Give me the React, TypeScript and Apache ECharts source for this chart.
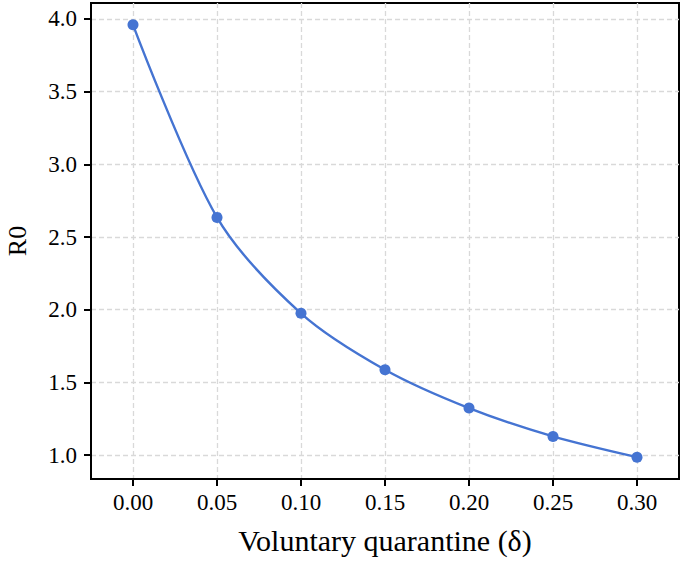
import React, { useEffect, useRef } from "react";
import * as echarts from "echarts";

const deltaValues = [0.0, 0.05, 0.1, 0.15, 0.2, 0.25, 0.3];
const r0Values = [3.96, 2.635, 1.975, 1.587, 1.323, 1.128, 0.985];
const xTickValues = [0.0, 0.05, 0.1, 0.15, 0.2, 0.25, 0.3];
const yTickValues = [1.0, 1.5, 2.0, 2.5, 3.0, 3.5, 4.0];

const FONT = "'Liberation Serif', 'Times New Roman', serif";
const W = 685;
const H = 563;

export default function App() {
  const ref = useRef<HTMLDivElement>(null);
  useEffect(() => {
    if (!ref.current) return;
    const chart = echarts.init(ref.current, undefined, { renderer: "svg" });
    const split = {
      show: true,
      lineStyle: { color: "#d9d9d9", width: 1.3, type: [5, 3] as any },
    };
    chart.setOption({
      animation: false,
      backgroundColor: "#ffffff",
      grid: {
        left: 91,
        right: 6,
        top: 3,
        bottom: 84,
        outerBoundsMode: "none",
        containLabel: false,
        show: true,
        borderColor: "#000",
        borderWidth: 2,
        backgroundColor: "transparent",
      },
      xAxis: {
        type: "value",
        min: -0.025,
        max: 0.325,
        name: "Voluntary quarantine (δ)",
        nameLocation: "middle",
        nameGap: 46,
        nameTextStyle: { fontFamily: FONT, fontSize: 30, color: "#000" },
        axisLine: { show: true, onZero: false, lineStyle: { color: "#000", width: 2 } },
        axisTick: {
          show: true,
          length: 7,
          customValues: xTickValues,
          lineStyle: { color: "#000", width: 2 },
        },
        axisLabel: {
          customValues: xTickValues,
          formatter: (v: number) => v.toFixed(2),
          fontFamily: FONT,
          fontSize: 23,
          color: "#000",
          margin: 12,
        },
        splitLine: split,
      },
      yAxis: {
        type: "value",
        min: 0.835,
        max: 4.11,
        name: "R0",
        nameLocation: "middle",
        nameGap: 61,
        nameTextStyle: { fontFamily: FONT, fontSize: 26, color: "#000" },
        axisLine: { show: true, onZero: false, lineStyle: { color: "#000", width: 2 } },
        axisTick: {
          show: true,
          length: 7,
          customValues: yTickValues,
          lineStyle: { color: "#000", width: 2 },
        },
        axisLabel: {
          customValues: yTickValues,
          formatter: (v: number) => v.toFixed(1),
          fontFamily: FONT,
          fontSize: 23,
          color: "#000",
          margin: 14,
        },
        splitLine: split,
      },
      series: [
        {
          type: "line",
          data: deltaValues.map((d, i) => [d, r0Values[i]]),
          smooth: 0.3,
          symbol: "circle",
          symbolSize: 11,
          lineStyle: { color: "#4574d2", width: 2.4 },
          itemStyle: { color: "#4574d2" },
        },
      ],
    });
    return () => chart.dispose();
  }, []);
  return (
    <div style={{ width: W, height: H, margin: -8 }}>
      <div
        ref={ref}
        style={{ position: "fixed", left: 0, top: 0, width: W, height: H }}
      />
    </div>
  );
}
